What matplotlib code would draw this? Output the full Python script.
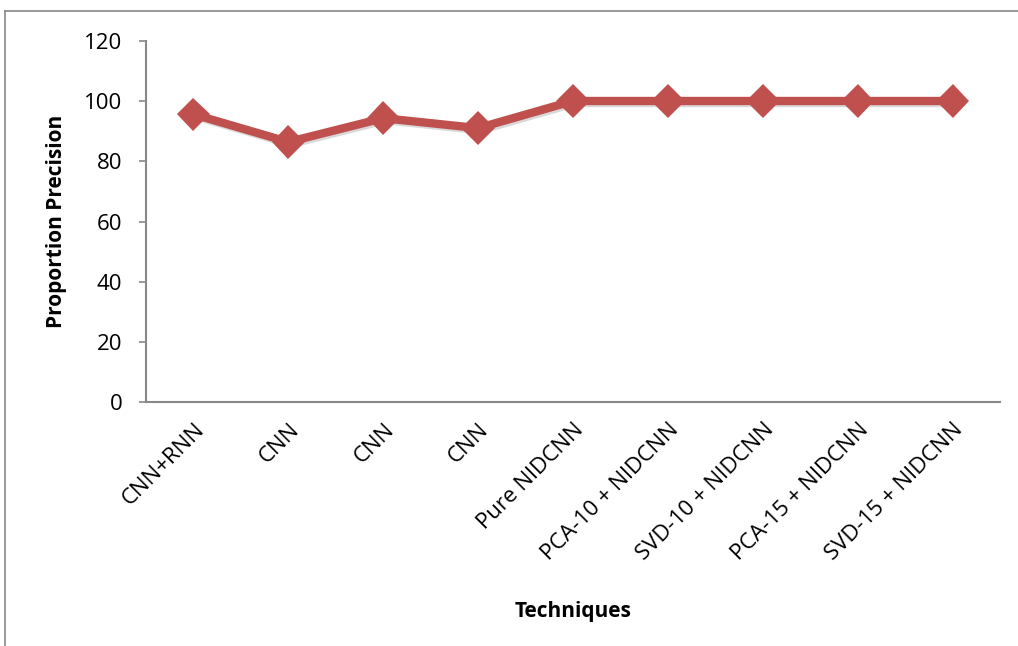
import matplotlib.pyplot as plt
import matplotlib.patheffects as pe
from matplotlib.lines import Line2D

techniques = ["CNN+RNN", "CNN", "CNN", "CNN", "Pure NIDCNN",
              "PCA-10 + NIDCNN", "SVD-10 + NIDCNN", "PCA-15 + NIDCNN",
              "SVD-15 + NIDCNN"]
precision = [95.6, 86.4, 94.3, 91.0, 100, 100, 100, 100, 100]

plt.rcParams['font.family'] = ['Open Sans', 'DejaVu Sans']

fig = plt.figure(figsize=(10.18, 6.46), dpi=100)
ax = fig.add_axes([0.1434, 0.377, 0.839, 0.56])

x = list(range(len(techniques)))
ax.plot(x, precision, color='#C0504D', linewidth=6, marker='D',
        markersize=17, markeredgewidth=0, solid_joinstyle='round',
        path_effects=[pe.SimpleLineShadow(offset=(1.5, -1.5), alpha=0.15,
                                          shadow_color='black'),
                      pe.Normal()])

ax.set_xlim(-0.5, len(techniques) - 0.5)
ax.set_ylim(0, 120)
ax.set_yticks(range(0, 121, 20))
ax.set_xticks(x)
ax.set_xticklabels(techniques, rotation=45, ha='right', va='top',
                   rotation_mode='anchor', fontsize=16)
ax.tick_params(axis='x', length=0, pad=12)
ax.tick_params(axis='y', labelsize=16, length=5, color='#888888',
               direction='out', width=1.2, pad=12)

for side in ['top', 'right']:
    ax.spines[side].set_visible(False)
for side in ['left', 'bottom']:
    ax.spines[side].set_color('#888888')
    ax.spines[side].set_linewidth(1.5)

ax.set_ylabel("Proportion Precision", fontsize=15, fontweight='bold',
              labelpad=12)
ax.set_xlabel("Techniques", fontsize=15, fontweight='bold', labelpad=26)

# outer chart frame (top and left edges)
fig.add_artist(Line2D([0.005, 1.0], [0.983, 0.983], color='#888888',
                      linewidth=1.2, transform=fig.transFigure))
fig.add_artist(Line2D([0.005, 0.005], [0.0, 0.983], color='#888888',
                      linewidth=1.2, transform=fig.transFigure))

fig.savefig("out.png", dpi=100)
